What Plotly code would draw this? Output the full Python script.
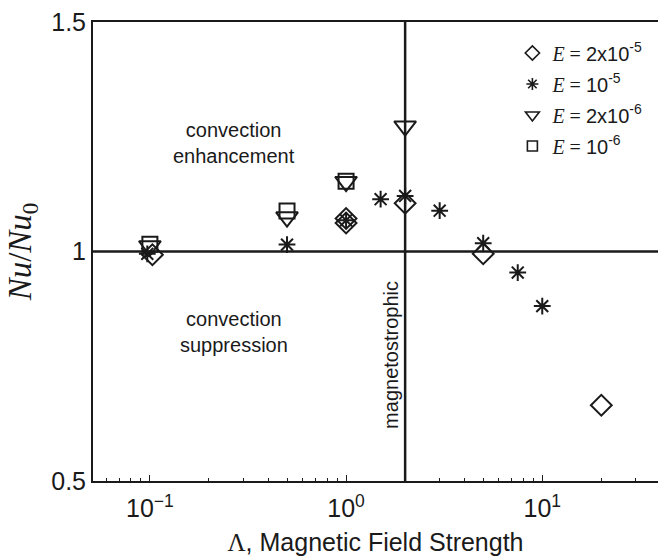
import plotly.graph_objects as go

# ---- data ----
lam_e2e5 = [0.103, 1.0, 1.0, 2.0, 5.0, 20.0]
nu_e2e5 = [0.993, 1.072, 1.062, 1.105, 0.995, 0.665]

lam_e1e5 = [0.097, 0.5, 1.0, 1.5, 2.0, 3.0, 5.0, 7.5, 10.0]
nu_e1e5 = [0.995, 1.015, 1.068, 1.114, 1.121, 1.089, 1.018, 0.954, 0.881]

lam_e2e6 = [0.1, 0.5, 1.0, 2.0]
nu_e2e6 = [1.012, 1.075, 1.152, 1.273]

lam_e1e6 = [0.1, 0.5, 1.0]
nu_e1e6 = [1.016, 1.088, 1.153]

x_tickvals = [0.1, 1, 10]
x_ticktext = ["10<sup>\u22121</sup>", "10<sup>0</sup>", "10<sup>1</sup>"]
x_minor_tickvals = [0.06, 0.07, 0.08, 0.09, 0.2, 0.3, 0.4, 0.5, 0.6, 0.7, 0.8, 0.9,
                    2, 3, 4, 5, 6, 7, 8, 9, 20, 30]
y_tickvals = [0.5, 1, 1.5]
y_ticktext = ["0.5", "1", "1.5"]

ref_nu = 1.0           # Nu/Nu0 = 1 reference line
magnetostrophic = 2.0  # Lambda where magnetostrophic line drawn

SANS = "Liberation Sans, Arial, sans-serif"
SERIF = "Liberation Serif, DejaVu Serif, serif"
INK = "#1a1a1a"


def lbl(rest):
    return ("<span style='font-family:Liberation Serif'><i>E</i> = </span>" + rest)


series = [
    (lam_e2e5, nu_e2e5, "diamond-open", 16, 11, lbl("2x10<sup>-5</sup>")),
    (lam_e1e5, nu_e1e5, "asterisk-open", 14, 10, lbl("10<sup>-5</sup>")),
    (lam_e2e6, nu_e2e6, "triangle-down-open", 19, 12, lbl("2x10<sup>-6</sup>")),
    (lam_e1e6, nu_e1e6, "square-open", 15, 10, lbl("10<sup>-6</sup>")),
]

fig = go.Figure()
for xs, ys, sym, sz, lsz, name in series:
    fig.add_trace(go.Scatter(
        x=xs, y=ys, mode="markers", name=name, showlegend=False,
        marker=dict(symbol=sym, size=sz, color=INK, line=dict(color=INK, width=2)),
    ))
for i, (xs, ys, sym, sz, lsz, name) in enumerate(series):
    # legend-only entry with the smaller legend marker
    fig.add_trace(go.Scatter(
        x=[None], y=[None], mode="markers", name=name, showlegend=True,
        legendgroup="g%d" % i,
        marker=dict(symbol=sym, size=lsz, color=INK, line=dict(color=INK, width=1.6)),
    ))

fig.add_hline(y=ref_nu, line=dict(color=INK, width=2.5), layer="below")
fig.add_vline(x=magnetostrophic, line=dict(color=INK, width=2.5), layer="below")

ann_font = dict(family=SANS, size=20, color=INK)
fig.add_annotation(x=-0.57, y=1.236, xref="x", yref="y",
                   text="convection<br>enhancement", showarrow=False, font=ann_font)
fig.add_annotation(x=-0.57, y=0.825, xref="x", yref="y",
                   text="convection<br>suppression", showarrow=False, font=ann_font)
fig.add_annotation(x=0.301, y=0.775, xref="x", yref="y",
                   text="magnetostrophic", showarrow=False, textangle=-90,
                   xanchor="right", xshift=-1, font=ann_font)

fig.update_layout(
    width=658, height=559,
    margin=dict(l=93, r=0, t=22, b=78),
    paper_bgcolor="white", plot_bgcolor="white",
    font=dict(family=SANS, color=INK),
    showlegend=True,
    legend=dict(x=0.983, y=0.975, xanchor="right", yanchor="top",
                bgcolor="rgba(0,0,0,0)", font=dict(family=SANS, size=20),
                itemwidth=30, tracegroupgap=2),
    xaxis=dict(type="log", range=[-1.29, 1.59],
               tickvals=x_tickvals, ticktext=x_ticktext,
               ticks="inside", ticklen=6, tickwidth=1, tickcolor=INK,
               showline=True, linecolor=INK, linewidth=2, mirror=True,
               showgrid=False, zeroline=False, ticklabelstandoff=4,
               tickfont=dict(family=SANS, size=25),
               minor=dict(tickvals=x_minor_tickvals, ticks="inside", ticklen=3,
                          tickcolor=INK, showgrid=False),
               title=dict(text="<span style='font-family:Liberation Serif'>\u039b</span>, Magnetic Field Strength",
                          font=dict(family=SANS, size=25), standoff=12)),
    yaxis=dict(range=[0.5, 1.5],
               tickvals=y_tickvals, ticktext=y_ticktext,
               ticks="inside", ticklen=6, tickwidth=1, tickcolor=INK,
               showline=True, linecolor=INK, linewidth=2, mirror=False,
               showgrid=False, zeroline=False,
               tickfont=dict(family=SANS, size=25),
               title=dict(text="<i>Nu</i>/<i>Nu</i><sub>0</sub>",
                          font=dict(family=SERIF, size=33), standoff=10)),
)

fig.write_html("out.html")
